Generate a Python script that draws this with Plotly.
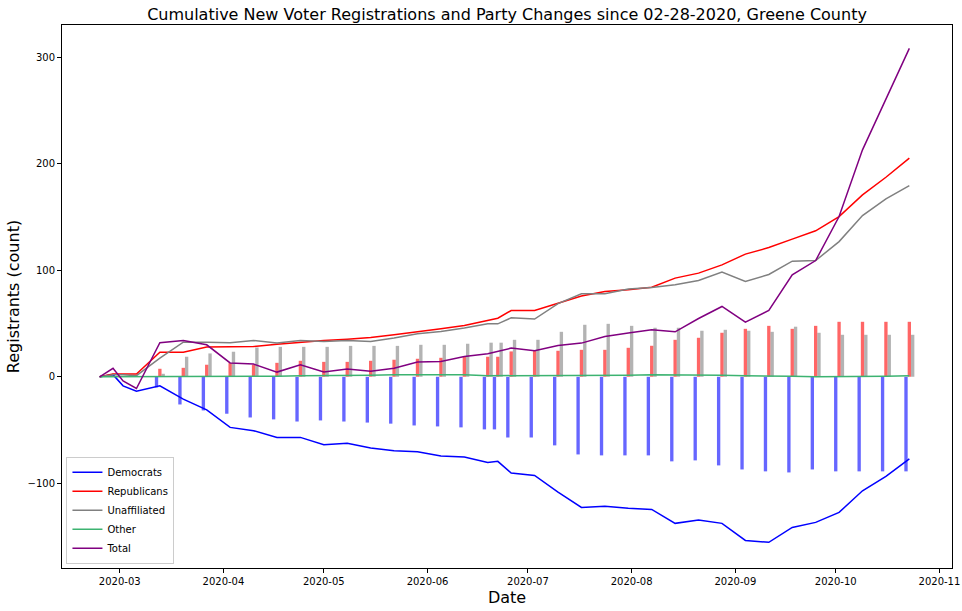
import plotly.graph_objects as go

dates = ["2020-02-24", "2020-02-28", "2020-03-02", "2020-03-06", "2020-03-13", "2020-03-20",
         "2020-03-27", "2020-04-03", "2020-04-10", "2020-04-17", "2020-04-24", "2020-05-01",
         "2020-05-08", "2020-05-15", "2020-05-22", "2020-05-29", "2020-06-05", "2020-06-12",
         "2020-06-19", "2020-06-22", "2020-06-26", "2020-07-03", "2020-07-10", "2020-07-17",
         "2020-07-24", "2020-07-31", "2020-08-07", "2020-08-14", "2020-08-21", "2020-08-28",
         "2020-09-04", "2020-09-11", "2020-09-18", "2020-09-25", "2020-10-02", "2020-10-09",
         "2020-10-16", "2020-10-23"]

democrats = [0, 2, -8.5, -13.6, -8.5, -21, -31, -47.5, -50.6, -56.9, -56.9, -63.8,
             -62.5, -66.9, -69.4, -70.4, -74.4, -75.3, -80.4, -79.4, -90.4, -92.6,
             -108.2, -122.6, -121.6, -123.5, -124.5, -137.6, -134.5, -137.6, -153.6,
             -155.4, -141.4, -136.7, -127.3, -107, -93.5, -77]
republicans = [0, 2.5, 2.5, 2.5, 23, 23, 28, 28, 28.4, 30.6, 32.5, 34,
               35.3, 36.9, 39.4, 41.9, 45, 48.1, 52.8, 55, 62.2, 62.2,
               69, 75.8, 80, 81.6, 84.1, 92.6, 97.3, 105, 115.1,
               121.3, 129.2, 137, 150.4, 170.7, 187.3, 205.2]
unaffiliated = [0, 2, 2, 1, 17.5, 32.5, 32.5, 32, 34, 31.6, 34, 33.1,
                34, 33.1, 36.3, 40.3, 42.5, 45.7, 49.7, 49.7, 55.3, 54.2,
                68.7, 77.9, 78, 82.3, 83.8, 86.3, 90.3, 98.2, 89.4,
                96, 108.5, 109.1, 126.9, 151.3, 167, 179.5]
other = [0, 0, 0, 0, 0, 0, 0, 0, 0, 0.5, 1, 1,
         1.5, 1.5, 2, 2, 2, 2, 1, 1, 1, 1,
         1.5, 1.5, 1.5, 1.5, 2, 2, 2, 1.5, 1,
         1, 0.5, 0, 0, 0, 0.5, 1]
total = [0, 8, -4, -11, 32, 34, 30, 13, 11.9, 4.4, 11.3, 4.4,
         7.2, 5.3, 8.1, 13.8, 14.4, 19, 21.6, 24, 26.9, 24.4,
         29.4, 31.6, 37.8, 41, 44.1, 42.2, 54.7, 66, 51.3,
         62.2, 95.7, 109.1, 150.4, 213, 261.4, 308.3]

dem_changes = [0, 0, 0, 0, -10, -26, -31.6, -34.7, -38.2, -40, -42, -41,
               -42, -43, -44, -45.7, -46.6, -47.5, -49.4, -49.4, -57, -57,
               -64.4, -72.9, -73.8, -73.8, -73.8, -79.4, -78.5, -83.2, -87,
               -88.8, -89.8, -87, -88.8, -88.8, -88.8, -88.8]
rep_changes = [0, 0, 0, 0, 7.5, 8.4, 11.3, 12.8, 11.3, 13.1, 15, 14,
               14, 15, 16, 16.9, 17.8, 18.8, 18.8, 18.8, 23.8, 24.4,
               24.4, 25.3, 25.3, 27.2, 29.1, 34.7, 36.6, 41.3, 45,
               47.8, 45, 47.8, 51.6, 51.6, 51.6, 51.6]
unaff_changes = [0, 0, 0, 0, 2.8, 18.8, 21.9, 23.5, 27.5, 28.1, 28.1, 28.1,
                 29, 29, 29, 30, 30, 31, 32, 32, 34.7, 34.7,
                 42.2, 48.8, 49.7, 47.8, 46, 46, 43.2, 44.1, 43.2,
                 42.2, 47, 41.3, 39.4, 39.4, 39.4, 39.4]

x_ticks = ["2020-03-01", "2020-04-01", "2020-05-01", "2020-06-01", "2020-07-01",
           "2020-08-01", "2020-09-01", "2020-10-01", "2020-11-01"]
x_tick_labels = ["2020-03", "2020-04", "2020-05", "2020-06", "2020-07",
                 "2020-08", "2020-09", "2020-10", "2020-11"]

DAY = 86400000

fig = go.Figure()

bar_specs = [
    (dem_changes, "rgba(0,0,255,0.6)", -1.5),
    (rep_changes, "rgba(255,0,0,0.6)", -0.5),
    (unaff_changes, "rgba(128,128,128,0.6)", 0.5),
]
for vals, col, off in bar_specs:
    fig.add_trace(go.Bar(x=dates, y=vals, width=DAY, offset=off * DAY,
                         marker=dict(color=col, line=dict(width=0)),
                         showlegend=False, hoverinfo="skip"))

line_specs = [
    ("Democrats", democrats, "blue"),
    ("Republicans", republicans, "red"),
    ("Unaffiliated", unaffiliated, "gray"),
    ("Other", other, "mediumseagreen"),
    ("Total", total, "purple"),
]
for name, vals, col in line_specs:
    fig.add_trace(go.Scatter(x=dates, y=vals, mode="lines", name=name,
                             line=dict(color=col, width=1.5)))

font_family = "DejaVu Sans"
fig.update_layout(
    width=962, height=611,
    margin=dict(l=62, r=10, t=25, b=43, autoexpand=False),
    paper_bgcolor="white", plot_bgcolor="white",
    barmode="overlay",
    font=dict(family=font_family, size=10, color="black"),
    title=dict(text="Cumulative New Voter Registrations and Party Changes since 02-28-2020, Greene County",
               x=0.5, xref="paper", xanchor="center",
               y=1 - 14 / 611, yref="container", yanchor="middle",
               font=dict(size=16, family=font_family, color="black")),
    legend=dict(x=0.005, y=0.008, xanchor="left", yanchor="bottom",
                bgcolor="rgba(255,255,255,0.8)", bordercolor="#cccccc", borderwidth=1,
                font=dict(size=10, family=font_family), tracegroupgap=0,
                itemwidth=30),
    showlegend=True,
)
fig.update_xaxes(
    type="date", automargin=False,
    range=["2020-02-12 18:00", "2020-11-04 18:00"],
    tickvals=x_ticks, ticktext=x_tick_labels,
    showgrid=False, zeroline=False,
    showline=True, linecolor="black", linewidth=1, mirror=True,
    ticks="outside", ticklen=4, tickwidth=1, tickcolor="black",
    title=dict(text="Date", font=dict(size=16, family=font_family), standoff=5),
)
fig.update_yaxes(
    automargin=False,
    range=[-179.5, 330.2],
    tickvals=[-100, 0, 100, 200, 300],
    showgrid=False, zeroline=False,
    showline=True, linecolor="black", linewidth=1, mirror=True,
    ticks="outside", ticklen=4, tickwidth=1, tickcolor="black",
    title=dict(text="Registrants (count)", font=dict(size=16, family=font_family), standoff=3),
)

fig.write_html("out.html", config={"displayModeBar": False},
               post_script="document.body.style.margin='0';document.body.style.padding='0';")
